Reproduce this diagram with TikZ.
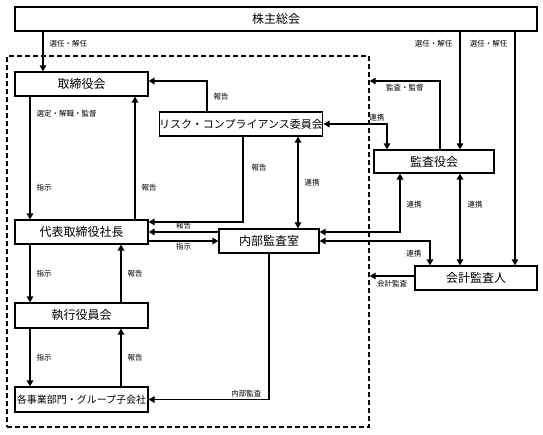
\documentclass[tikz,border=0pt]{standalone}
\usepackage{fontspec}
\setmainfont{Noto Sans CJK JP}
\usetikzlibrary{arrows.meta}

\begin{document}
\begin{tikzpicture}[x=1pt,y=-1pt,
        >={Triangle[length=6pt,width=6.5pt]},
        box/.style={draw,line width=1.2pt,minimum height=24pt,inner sep=0pt,
                font=\fontsize{12}{14}\selectfont},
        frame/.style={draw,line width=1.4pt,dash pattern=on 5pt off 3pt,inner sep=0pt},
        lbl/.style={font=\fontsize{7.5}{9}\selectfont,inner sep=2pt},
        conn/.style={line width=1.4pt}]
        \useasboundingbox (0,0) rectangle (543,435);
        \node[frame,minimum width=362pt,minimum height=371pt] (grp) at (188,241.5) {};
        \node[box,minimum width=522pt] (kabu) at (276,19) {株主総会};
        \node[box,minimum width=133pt] (tori) at (81.5,84) {取締役会};
        \node[box,minimum width=162pt,font=\fontsize{11}{13}\selectfont] (risk) at (241,124) {リスク・コンプライアンス委員会};
        \node[box,minimum width=120pt,minimum height=23pt] (kansa) at (434,161.5) {監査役会};
        \node[box,minimum width=133pt] (daihyo) at (81.5,232) {代表取締役社長};
        \node[box,minimum width=100pt] (naibu) at (269,241) {内部監査室};
        \node[box,minimum width=122pt] (kaikei) at (476,278) {会計監査人};
        \node[box,minimum width=133pt,minimum height=25pt] (shikko) at (81.5,315.5) {執行役員会};
        \node[box,minimum width=133pt,minimum height=25pt,font=\fontsize{10}{12}\selectfont] (jigyo) at (81.5,399.5) {各事業部門・グループ子会社};
        \coordinate (r81) at ([yshift=3pt]tori.east);
        \coordinate (k276) at ([yshift=2pt]kaikei.west);
        \draw[conn,->] ([xshift=-38.5pt]tori.north |- kabu.south) -- node[lbl,right=4pt,pos=.3] (t1) {選任・解任} ([xshift=-38.5pt]tori.north);
        \draw[conn,->] ([xshift=26pt]kansa.north |- kabu.south) -- node[lbl,left=5pt,pos=.1] (t2) {選任・解任} ([xshift=26pt]kansa.north);
        \draw[conn,->] ([xshift=39pt]kaikei.north |- kabu.south) -- node[lbl,left=5pt,pos=.05] (t3) {選任・解任} ([xshift=39pt]kaikei.north);
        \draw[conn,->] ([xshift=6pt]kansa.north) |- node[lbl,below,pos=.75] (t4) {監査・監督} (grp.east |- r81);
        \draw[conn,<->] (risk.east) -| node[lbl,above left,pos=.5] (t5) {連携} ([xshift=-47pt]kansa.north);
        \draw[conn,->] ([xshift=-34pt]risk.north) |- node[lbl,right=4pt,pos=.25] (t6) {報告} (r81);
        \draw[conn,->] ([xshift=2pt]risk.south) |- node[lbl,right=6pt,pos=.18] (t7) {報告} ([yshift=10pt]daihyo.east);
        \draw[conn,->] ([xshift=-51.5pt]tori.south) -- node[lbl,right=4pt,pos=.14] (t8) {選定・解職・監督}
                node[lbl,right=4pt,pos=.74] (t9) {指示} ([xshift=-51.5pt]daihyo.north);
        \draw[conn,->] ([xshift=53.5pt]daihyo.north) -- node[lbl,right=4pt,pos=.26] (t10) {報告} ([xshift=53.5pt]tori.south);
        \draw[conn,->] ([yshift=9pt]naibu.west) -- node[lbl,above] (t11) {報告} (daihyo.east);
        \draw[conn,->] ([yshift=-9pt]daihyo.east) -- node[lbl,below] (t12) {指示} (naibu.west);
        \draw[conn,<->] ([xshift=57pt]risk.south) -- node[lbl,right=4pt] (t13) {連携} ([xshift=29pt]naibu.north);
        \draw[conn,<->] ([xshift=-34pt]kansa.south) |- node[lbl,right=4pt,pos=.27] (t14) {連携} ([yshift=9pt]naibu.east);
        \draw[conn,<->] (naibu.east) -| node[lbl,left=6pt,pos=.75] (t15) {連携} ([xshift=-46pt]kaikei.north);
        \draw[conn,<->] ([xshift=26pt]kansa.south) -- node[lbl,right=5pt,pos=.34] (t16) {連携} ([xshift=-16pt]kaikei.north);
        \draw[conn,->] (k276) -- node[lbl,below=2pt] (t17) {会計監査} (grp.east |- k276);
        \draw[conn,->] ([xshift=-51.5pt]daihyo.south) -- node[lbl,right=4pt] (t18) {指示} ([xshift=-51.5pt]shikko.north);
        \draw[conn,->] ([xshift=39.5pt]shikko.north) -- node[lbl,right=4pt] (t19) {報告} ([xshift=39.5pt]daihyo.south);
        \draw[conn,->] ([xshift=-51.5pt]shikko.south) -- node[lbl,right=4pt] (t20) {指示} ([xshift=-51.5pt]jigyo.north);
        \draw[conn,->] ([xshift=39.5pt]jigyo.north) -- node[lbl,right=4pt] (t21) {報告} ([xshift=39.5pt]shikko.south);
        \draw[conn,->] (naibu.south) |- node[lbl,above left,pos=.52] (t22) {内部監査} (jigyo.east);
    \end{tikzpicture}
\end{document}
